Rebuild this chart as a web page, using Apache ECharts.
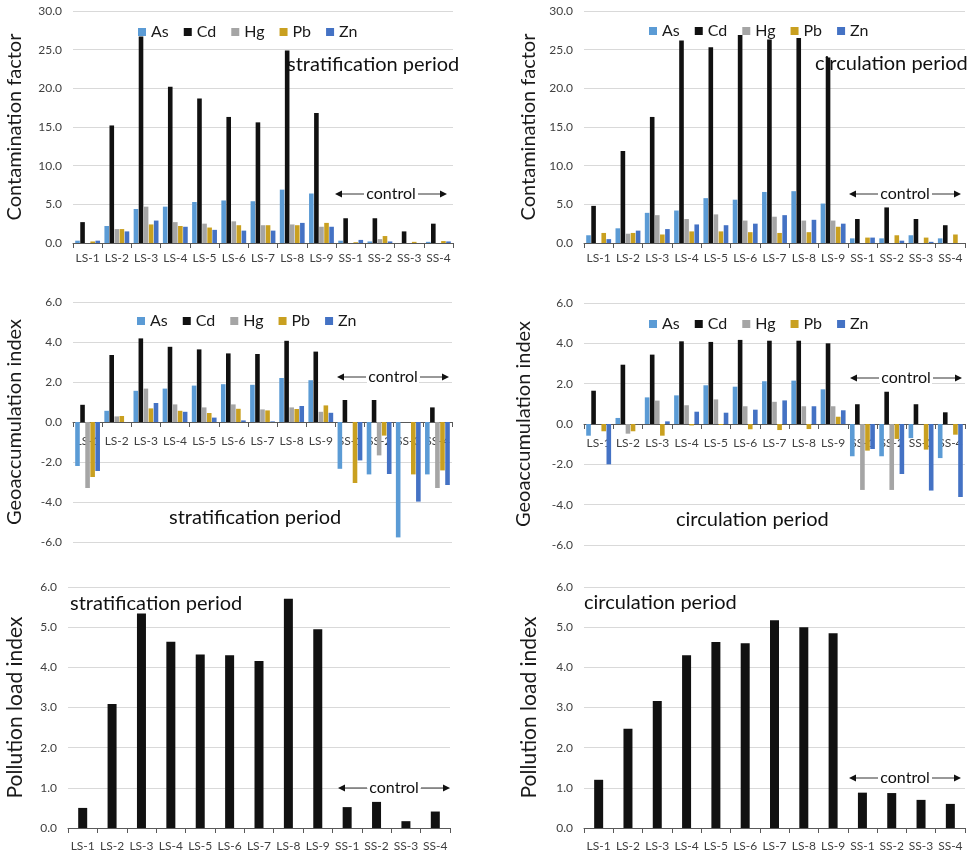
<!DOCTYPE html>
<html>
<head>
<meta charset="utf-8">
<script src="https://cdn.jsdelivr.net/npm/echarts@6/dist/echarts.min.js"></script>
<style>
  html, body { margin: 0; padding: 0; background: #fff; }
  #main { width: 974px; height: 860px; }
</style>
</head>
<body>
<div id="main"></div>
<script>
(function () {
  'use strict';
  var sites = ['LS-1', 'LS-2', 'LS-3', 'LS-4', 'LS-5', 'LS-6', 'LS-7', 'LS-8', 'LS-9', 'SS-1', 'SS-2', 'SS-3', 'SS-4'];
  var metals = ['As', 'Cd', 'Hg', 'Pb', 'Zn'];

  // contamination factor, stratification period
  var cfStratAs = [0.3, 2.2, 4.4, 4.7, 5.3, 5.5, 5.4, 6.9, 6.4, 0.3, 0.2, 0, 0.15];
  var cfStratCd = [2.7, 15.2, 26.7, 20.2, 18.7, 16.3, 15.6, 24.9, 16.8, 3.2, 3.2, 1.5, 2.5];
  var cfStratHg = [0, 1.8, 4.7, 2.7, 2.5, 2.8, 2.3, 2.4, 2.1, 0, 0.5, 0, 0];
  var cfStratPb = [0.2, 1.8, 2.4, 2.2, 2.0, 2.3, 2.3, 2.3, 2.6, 0.1, 0.9, 0.15, 0.25];
  var cfStratZn = [0.3, 1.5, 2.9, 2.1, 1.7, 1.6, 1.6, 2.6, 2.1, 0.4, 0.2, 0, 0.2];

  // contamination factor, circulation period
  var cfCircAs = [1.0, 1.9, 3.9, 4.2, 5.8, 5.6, 6.6, 6.7, 5.1, 0.6, 0.6, 1.0, 0.6];
  var cfCircCd = [4.8, 11.9, 16.3, 26.2, 25.3, 26.9, 26.3, 26.5, 24.0, 3.1, 4.6, 3.1, 2.3];
  var cfCircHg = [0, 1.2, 3.6, 3.1, 3.7, 2.9, 3.4, 2.9, 2.9, 0, 0, 0, 0];
  var cfCircPb = [1.3, 1.3, 1.1, 1.5, 1.5, 1.4, 1.3, 1.4, 2.1, 0.7, 1.0, 0.7, 1.1];
  var cfCircZn = [0.5, 1.6, 1.8, 2.4, 2.3, 2.5, 3.6, 3.0, 2.5, 0.7, 0.3, 0.15, 0];

  // geoaccumulation index, stratification period
  var igStratAs = [-2.2, 0.56, 1.56, 1.67, 1.82, 1.89, 1.86, 2.2, 2.09, -2.34, -2.62, -5.77, -2.62];
  var igStratCd = [0.86, 3.35, 4.18, 3.76, 3.63, 3.43, 3.4, 4.06, 3.52, 1.1, 1.1, 0, 0.73];
  var igStratHg = [-3.3, 0.28, 1.67, 0.88, 0.73, 0.88, 0.63, 0.73, 0.51, 0, -1.67, 0, -3.3];
  var igStratPb = [-2.75, 0.3, 0.68, 0.56, 0.45, 0.66, 0.58, 0.65, 0.83, -3.05, -0.68, -2.62, -2.42];
  var igStratZn = [-2.45, 0, 0.95, 0.51, 0.22, 0.08, 0.03, 0.8, 0.46, -1.92, -2.6, -3.98, -3.15];

  // geoaccumulation index, circulation period
  var igCircAs = [-0.58, 0.3, 1.32, 1.42, 1.92, 1.85, 2.12, 2.15, 1.72, -1.6, -1.6, -0.7, -1.69];
  var igCircCd = [1.65, 2.94, 3.44, 4.1, 4.07, 4.17, 4.13, 4.13, 4.0, 0.98, 1.6, 0.98, 0.58];
  var igCircHg = [0, -0.48, 1.16, 0.93, 1.22, 0.88, 1.1, 0.88, 0.88, -3.27, -3.27, 0, 0];
  var igCircPb = [-0.36, -0.36, -0.58, -0.07, -0.05, -0.26, -0.3, -0.25, 0.36, -1.32, -0.74, -1.27, -0.53];
  var igCircZn = [-2.0, 0, 0.13, 0.61, 0.56, 0.71, 1.17, 0.88, 0.68, -1.24, -2.48, -3.3, -3.62];

  // pollution load index
  var pliStrat = [0.5, 3.09, 5.34, 4.64, 4.32, 4.3, 4.16, 5.71, 4.95, 0.52, 0.65, 0.17, 0.41];
  var pliCirc = [1.2, 2.47, 3.16, 4.3, 4.63, 4.6, 5.17, 5.0, 4.85, 0.88, 0.87, 0.7, 0.6];

  var colors = {As: '#5b9bd5', Cd: '#111111', Hg: '#a5a5a5', Pb: '#c9a020', Zn: '#4472c4'};
  var font = 'Lato, "Open Sans", sans-serif';

  var myChart = echarts.init(document.getElementById('main'));

  var grids = [
    {left: 73, top: 11, width: 380, height: 232},
    {left: 584, top: 11, width: 381, height: 232},
    {left: 73, top: 302, width: 379, height: 240},
    {left: 584, top: 303, width: 381, height: 242},
    {left: 68, top: 587, width: 382, height: 241},
    {left: 584, top: 587, width: 381, height: 241}
  ];
  var yNames = ['Contamination factor', 'Contamination factor', 'Geoaccumulation index',
    'Geoaccumulation index', 'Pollution load index', 'Pollution load index'];
  var yRanges = [[0, 30, 5], [0, 30, 5], [-6, 6, 2], [-6, 6, 2], [0, 6, 1], [0, 6, 1]];
  var nameGaps = [48, 45, 48, 50, 42, 44];
  var nameSizes = [20, 20, 20, 20, 21, 21];
  var labelMargins = [9, 9, 13, 13, 12, 12];

  var xAxes = grids.map(function (g, i) {
    var mid = (i === 2 || i === 3);
    return {
      type: 'category', gridIndex: i, data: sites, position: 'bottom',
      offset: mid ? -g.height / 2 : 0,
      axisLine: {onZero: false, lineStyle: {color: '#595959', width: 1}},
      axisTick: {show: true, length: 5, lineStyle: {color: '#595959'}},
      axisLabel: {interval: 0, fontSize: 12, color: '#404040', fontFamily: font,
        margin: labelMargins[i]}
    };
  });
  var yAxes = grids.map(function (g, i) {
    return {
      type: 'value', gridIndex: i,
      min: yRanges[i][0], max: yRanges[i][1], interval: yRanges[i][2],
      name: yNames[i], nameLocation: 'middle', nameGap: nameGaps[i],
      nameTextStyle: {fontSize: nameSizes[i], color: '#1a1a1a', fontFamily: font},
      axisLine: {show: false}, axisTick: {show: false},
      splitLine: {lineStyle: {color: '#d9d9d9'}},
      axisLabel: {fontSize: 12, color: '#404040', fontFamily: font, margin: 11,
        formatter: function (v) { return v.toFixed(1); }}
    };
  });

  var metalSets = [
    [cfStratAs, cfStratCd, cfStratHg, cfStratPb, cfStratZn],
    [cfCircAs, cfCircCd, cfCircHg, cfCircPb, cfCircZn],
    [igStratAs, igStratCd, igStratHg, igStratPb, igStratZn],
    [igCircAs, igCircCd, igCircHg, igCircPb, igCircZn]
  ];
  var series = [];
  metalSets.forEach(function (set, gi) {
    set.forEach(function (vals, mi) {
      series.push({
        name: metals[mi], type: 'bar', xAxisIndex: gi, yAxisIndex: gi,
        data: vals, barGap: '10%', barCategoryGap: '15%',
        itemStyle: {color: colors[metals[mi]]}
      });
    });
  });
  [pliStrat, pliCirc].forEach(function (vals, k) {
    series.push({
      name: 'PLI', type: 'bar', xAxisIndex: 4 + k, yAxisIndex: 4 + k,
      data: vals, barWidth: 9, itemStyle: {color: '#111111'}
    });
  });

  function legendAt(left, top) {
    return {
      data: metals, left: left, top: top, icon: 'rect', itemWidth: 8, itemHeight: 8,
      itemGap: 15, textStyle: {fontSize: 16, color: '#1a1a1a', fontFamily: font},
      selectedMode: false
    };
  }

  function label(text, x, y) {
    return {type: 'text', left: x, top: y, z: 100,
      style: {text: text, fontSize: 20, fill: '#111', fontFamily: font}};
  }

  // "<-- control -->" note drawn over the grid
  function control(cx, cy) {
    var half = 56, gap = 27, c = '#333';
    return [
      {type: 'rect', z: 100, shape: {x: cx - 26, y: cy - 9, width: 52, height: 18}, style: {fill: '#fff'}},
      {type: 'line', z: 101, shape: {x1: cx - half + 5, y1: cy, x2: cx - gap, y2: cy}, style: {stroke: c, lineWidth: 1}},
      {type: 'line', z: 101, shape: {x1: cx + gap, y1: cy, x2: cx + half - 5, y2: cy}, style: {stroke: c, lineWidth: 1}},
      {type: 'polygon', z: 101, shape: {points: [[cx - half, cy], [cx - half + 7, cy - 3.5], [cx - half + 7, cy + 3.5]]}, style: {fill: '#111'}},
      {type: 'polygon', z: 101, shape: {points: [[cx + half, cy], [cx + half - 7, cy - 3.5], [cx + half - 7, cy + 3.5]]}, style: {fill: '#111'}},
      {type: 'text', z: 102, x: cx, y: cy, style: {text: 'control', fontSize: 16, fill: '#111',
        fontFamily: font, textAlign: 'center', textVerticalAlign: 'middle'}}
    ];
  }

  var graphics = [
    label('stratification period', 287, 55),
    label('circulation period', 815, 54),
    label('stratification period', 169, 508),
    label('circulation period', 676, 510),
    label('stratification period', 70, 594),
    label('circulation period', 584, 593)
  ].concat(
    control(391, 194), control(905, 194), control(393, 377),
    control(906, 378), control(394, 788), control(905, 778)
  );

  var option = {
    animation: false,
    textStyle: {fontFamily: font},
    grid: grids,
    xAxis: xAxes,
    yAxis: yAxes,
    legend: [legendAt(133, 19), legendAt(644, 18), legendAt(132, 308), legendAt(644, 311)],
    series: series,
    graphic: graphics
  };

  myChart.setOption(option);
  window.addEventListener('resize', function () {
    myChart.resize();
  });
})();
</script>
</body>
</html>
